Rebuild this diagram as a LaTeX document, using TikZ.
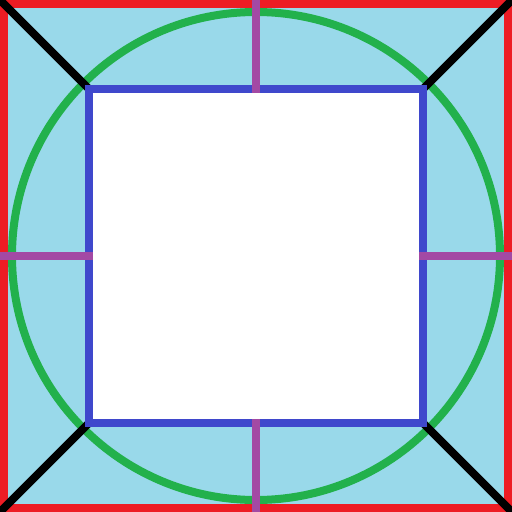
\documentclass[tikz,border=0pt]{standalone}
\usetikzlibrary{positioning}
\definecolor{paintsky}{HTML}{99D9EA}
\definecolor{paintred}{HTML}{ED1C24}
\definecolor{paintgreen}{HTML}{22B14C}
\definecolor{paintblue}{HTML}{3F48CC}
\definecolor{paintpurple}{HTML}{A349A4}
\begin{document}
\begin{tikzpicture}[x=1pt,y=-1pt,line width=8pt]
        \useasboundingbox (0,0) rectangle (512,512);
        \clip (0,0) rectangle (512,512);
        \fill[paintsky] (0,0) rectangle (512,512);
        \draw[paintred] (4,4) rectangle (508,508);
        \draw[paintgreen] (256,256) circle (244);
        \foreach \ox/\oy/\ix/\iy in {0/0/89/89,512/0/423/89,512/512/423/423,0/512/89/423}
          \draw (\ox,\oy) -- (\ix,\iy);
        \draw[paintblue,fill=white] (89,89) rectangle (423,423);
        \foreach \ox/\oy/\ix/\iy in {256/0/256/93,256/512/256/419,0/256/93/256,512/256/419/256}
          \draw[paintpurple] (\ox,\oy) -- (\ix,\iy);
      \end{tikzpicture}
\end{document}
